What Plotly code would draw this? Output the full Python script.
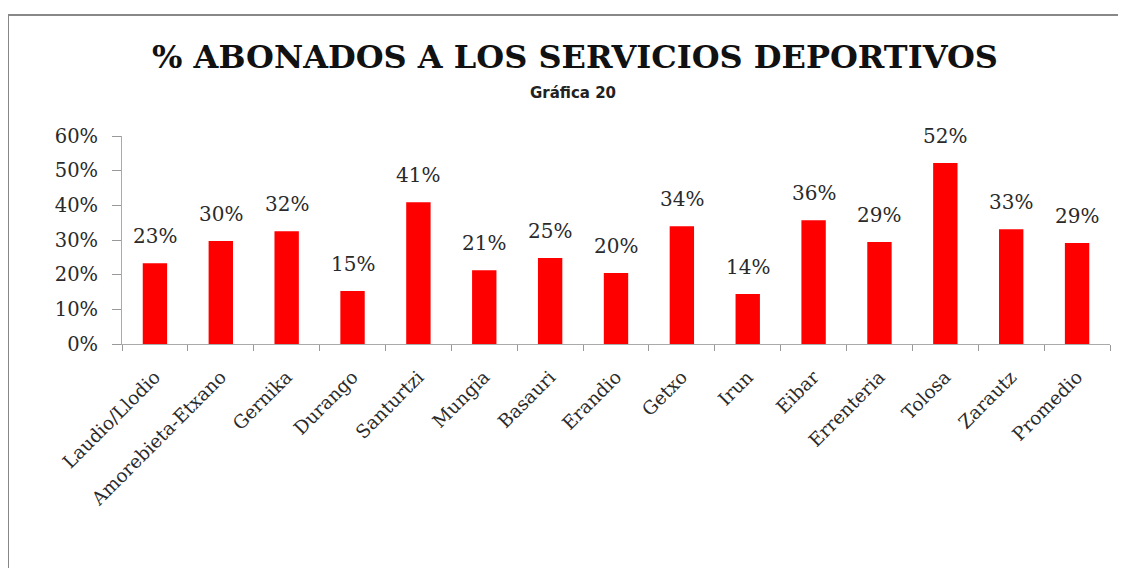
import plotly.graph_objects as go

categories = ["Laudio/Llodio", "Amorebieta-Etxano", "Gernika", "Durango", "Santurtzi",
              "Mungia", "Basauri", "Erandio", "Getxo", "Irun", "Eibar", "Errenteria",
              "Tolosa", "Zarautz", "Promedio"]
values = [0.233, 0.297, 0.325, 0.153, 0.409, 0.213, 0.248, 0.205, 0.340, 0.144,
          0.357, 0.294, 0.522, 0.331, 0.291]
y_ticks = [0, 0.1, 0.2, 0.3, 0.4, 0.5, 0.6]
y_tick_labels = ["0%", "10%", "20%", "30%", "40%", "50%", "60%"]
title_text = "% ABONADOS A LOS SERVICIOS DEPORTIVOS"
subtitle_text = "Gráfica 20"

W, H = 1126, 568
OFF = 8  # page offset of the figure in the browser
L, T = 122 - OFF, 136 - OFF
R = W - (1110 - OFF)
B = H - (344 - OFF)
pw, ph = W - L - R, H - T - B


def px_to_paper_x(px):
    return (px - OFF - L) / pw


def px_to_paper_y(py):
    return (H - B - (py - OFF)) / ph


serif = "DejaVu Serif, serif"
txt_color = "#2a2a2a"

fig = go.Figure(go.Bar(
    x=categories, y=values,
    marker=dict(color="#ff0000", line=dict(width=0)),
    width=0.37,
    hoverinfo="x+y",
))

label_annotations = [
    dict(x=c, y=v, xref="x", yref="y", text=f"{round(v*100)}%",
         showarrow=False, xanchor="center", yanchor="bottom", yshift=13,
         font=dict(family=serif, size=20, color=txt_color))
    for c, v in zip(categories, values)
]

fig.update_layout(
    width=W, height=H,
    margin=dict(l=L, r=R, t=T, b=B),
    paper_bgcolor="white", plot_bgcolor="white",
    showlegend=False,
    font=dict(family=serif, color=txt_color),
    xaxis=dict(
        type="category",
        tickangle=-45,
        tickson="boundaries",
        ticks="outside", ticklen=6, tickcolor="#999",
        ticklabelstandoff=14,
        showline=True, linecolor="#aaa", linewidth=1,
        showgrid=False,
        tickfont=dict(family=serif, size=18.5, color=txt_color),
    ),
    yaxis=dict(
        range=[0, 0.6],
        tickvals=y_ticks, ticktext=y_tick_labels,
        ticks="outside", ticklen=9, tickcolor="#999",
        ticklabelstandoff=10,
        showline=True, linecolor="#aaa", linewidth=1,
        showgrid=False, zeroline=False,
        tickfont=dict(family=serif, size=19.5, color=txt_color),
    ),
    annotations=label_annotations + [
        dict(text="<b>" + title_text + "</b>", xref="paper", yref="paper",
             x=px_to_paper_x(575), y=px_to_paper_y(57), xanchor="center", yanchor="middle",
             showarrow=False, font=dict(family=serif, size=32, color="#111")),
        dict(text="<b>" + subtitle_text + "</b>", xref="paper", yref="paper",
             x=px_to_paper_x(573), y=px_to_paper_y(93), xanchor="center", yanchor="middle",
             showarrow=False, font=dict(family="DejaVu Sans, sans-serif", size=15, color="#222")),
    ],
    shapes=[
        dict(type="rect", xref="paper", yref="paper",
             x0=px_to_paper_x(8), x1=px_to_paper_x(1160),
             y0=px_to_paper_y(640), y1=px_to_paper_y(15),
             line=dict(color="#888", width=2), fillcolor="rgba(0,0,0,0)", layer="below"),
    ],
)

fig.write_html("out.html")
